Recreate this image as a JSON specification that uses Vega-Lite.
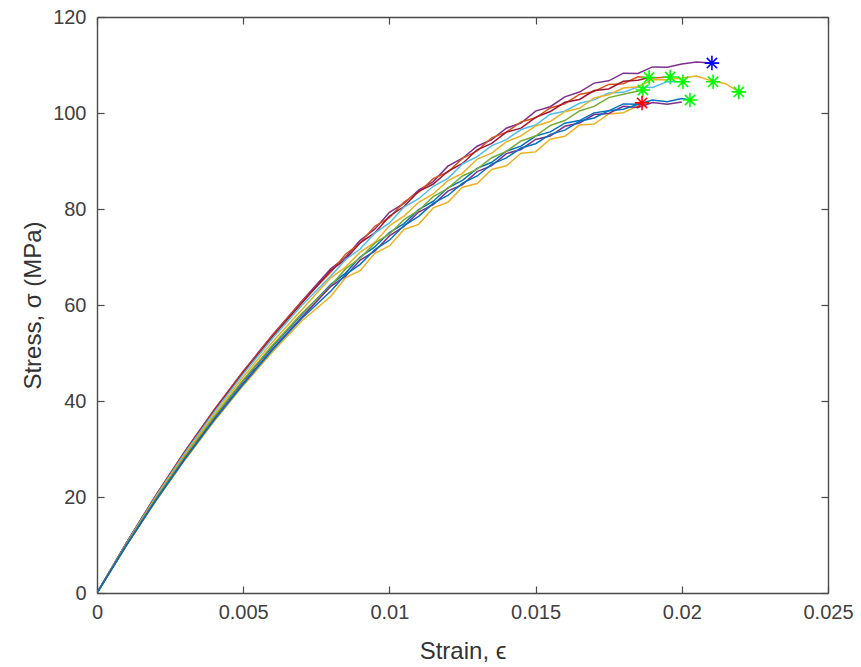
{
"$schema": "https://vega.github.io/schema/vega-lite/v6.json",
"width": 731, "height": 576,
"autosize": "none",
"padding": {"left": 97, "top": 17, "right": 33, "bottom": 74},
"background": "white",
"config": {"view": {"stroke": null},
 "axis": {"grid": false, "domainColor": "#4a4a4a", "tickColor": "#4a4a4a", "labelColor": "#404040", "titleColor": "#333333", "labelFont": "Liberation Sans", "titleFont": "Liberation Sans", "labelFontSize": 20, "titleFontSize": 24, "titleFontWeight": "normal", "tickSize": -7, "domainWidth": 1.4, "tickWidth": 1.2}},
"datasets": {
"curves": [
{"s":"A","x":0,"y":0},{"s":"A","x":0.001,"y":10.4},{"s":"A","x":0.002,"y":20.25},{"s":"A","x":0.003,"y":29.47},{"s":"A","x":0.004,"y":38.12},{"s":"A","x":0.005,"y":46.2},{"s":"A","x":0.006,"y":53.77},{"s":"A","x":0.007,"y":60.8},{"s":"A","x":0.008,"y":67.6},{"s":"A","x":0.0085,"y":69.95},{"s":"A","x":0.009,"y":73.5},{"s":"A","x":0.0095,"y":75.8},{"s":"A","x":0.01,"y":79.3},{"s":"A","x":0.0105,"y":81.16},{"s":"A","x":0.011,"y":83.96},{"s":"A","x":0.0115,"y":85.72},{"s":"A","x":0.012,"y":88.92},{"s":"A","x":0.0125,"y":90.58},{"s":"A","x":0.013,"y":93.08},{"s":"A","x":0.0135,"y":94.44},{"s":"A","x":0.014,"y":96.84},{"s":"A","x":0.0145,"y":97.9},{"s":"A","x":0.015,"y":100.4},{"s":"A","x":0.0155,"y":101.31},{"s":"A","x":0.016,"y":103.37},{"s":"A","x":0.0165,"y":104.37},{"s":"A","x":0.017,"y":106.23},{"s":"A","x":0.0175,"y":106.7},{"s":"A","x":0.018,"y":108.3},{"s":"A","x":0.0185,"y":108.23},{"s":"A","x":0.019,"y":109.6},{"s":"A","x":0.0195,"y":109.53},{"s":"A","x":0.02,"y":110.2},{"s":"A","x":0.0205,"y":110.6},{"s":"A","x":0.02103,"y":110.4},
{"s":"B","x":0,"y":0},{"s":"B","x":0.001,"y":10.38},{"s":"B","x":0.002,"y":20.21},{"s":"B","x":0.003,"y":29.41},{"s":"B","x":0.004,"y":38.04},{"s":"B","x":0.005,"y":46.1},{"s":"B","x":0.006,"y":53.65},{"s":"B","x":0.007,"y":60.66},{"s":"B","x":0.008,"y":66.85},{"s":"B","x":0.0085,"y":70.58},{"s":"B","x":0.009,"y":72.92},{"s":"B","x":0.0095,"y":76.4},{"s":"B","x":0.01,"y":78.2},{"s":"B","x":0.0105,"y":81.43},{"s":"B","x":0.011,"y":83.5},{"s":"B","x":0.0115,"y":86.33},{"s":"B","x":0.012,"y":87.7},{"s":"B","x":0.0125,"y":90.53},{"s":"B","x":0.013,"y":92.1},{"s":"B","x":0.0135,"y":94.83},{"s":"B","x":0.014,"y":96.0},{"s":"B","x":0.0145,"y":98.13},{"s":"B","x":0.015,"y":99.0},{"s":"B","x":0.0155,"y":101.05},{"s":"B","x":0.016,"y":101.93},{"s":"B","x":0.0165,"y":103.87},{"s":"B","x":0.017,"y":104.47},{"s":"B","x":0.0175,"y":105.96},{"s":"B","x":0.018,"y":106.1},{"s":"B","x":0.0185,"y":107.53},{"s":"B","x":0.019,"y":107.3},{"s":"B","x":0.0196,"y":107.5},
{"s":"C","x":0,"y":0},{"s":"C","x":0.001,"y":10.34},{"s":"C","x":0.002,"y":20.13},{"s":"C","x":0.003,"y":29.29},{"s":"C","x":0.004,"y":37.88},{"s":"C","x":0.005,"y":45.9},{"s":"C","x":0.006,"y":53.41},{"s":"C","x":0.007,"y":60.38},{"s":"C","x":0.008,"y":67.23},{"s":"C","x":0.0085,"y":69.54},{"s":"C","x":0.009,"y":72.96},{"s":"C","x":0.0095,"y":75.02},{"s":"C","x":0.01,"y":78.5},{"s":"C","x":0.0105,"y":80.52},{"s":"C","x":0.011,"y":83.68},{"s":"C","x":0.0115,"y":85.2},{"s":"C","x":0.012,"y":87.86},{"s":"C","x":0.0125,"y":89.48},{"s":"C","x":0.013,"y":92.34},{"s":"C","x":0.0135,"y":93.66},{"s":"C","x":0.014,"y":96.02},{"s":"C","x":0.0145,"y":96.84},{"s":"C","x":0.015,"y":99.1},{"s":"C","x":0.0155,"y":100.3},{"s":"C","x":0.016,"y":102.23},{"s":"C","x":0.0165,"y":102.82},{"s":"C","x":0.017,"y":104.67},{"s":"C","x":0.0175,"y":105.01},{"s":"C","x":0.018,"y":106.6},{"s":"C","x":0.0185,"y":106.83},{"s":"C","x":0.01888,"y":107.4},
{"s":"D","x":0,"y":0},{"s":"D","x":0.001,"y":10.28},{"s":"D","x":0.002,"y":20.01},{"s":"D","x":0.003,"y":29.11},{"s":"D","x":0.004,"y":37.64},{"s":"D","x":0.005,"y":45.6},{"s":"D","x":0.006,"y":53.01},{"s":"D","x":0.007,"y":59.88},{"s":"D","x":0.008,"y":66.03},{"s":"D","x":0.0085,"y":69.49},{"s":"D","x":0.009,"y":71.66},{"s":"D","x":0.0095,"y":74.97},{"s":"D","x":0.01,"y":77.1},{"s":"D","x":0.0105,"y":80.4},{"s":"D","x":0.011,"y":82.14},{"s":"D","x":0.0115,"y":84.74},{"s":"D","x":0.012,"y":86.38},{"s":"D","x":0.0125,"y":89.38},{"s":"D","x":0.013,"y":90.92},{"s":"D","x":0.0135,"y":93.22},{"s":"D","x":0.014,"y":94.46},{"s":"D","x":0.0145,"y":96.56},{"s":"D","x":0.015,"y":97.5},{"s":"D","x":0.0155,"y":99.76},{"s":"D","x":0.016,"y":100.37},{"s":"D","x":0.0165,"y":102.02},{"s":"D","x":0.017,"y":102.73},{"s":"D","x":0.0175,"y":104.15},{"s":"D","x":0.018,"y":104.3},{"s":"D","x":0.0185,"y":105.43},{"s":"D","x":0.019,"y":105.3},{"s":"D","x":0.0195,"y":106.53},{"s":"D","x":0.02004,"y":106.5},
{"s":"E","x":0,"y":0},{"s":"E","x":0.001,"y":10.16},{"s":"E","x":0.002,"y":19.77},{"s":"E","x":0.003,"y":28.75},{"s":"E","x":0.004,"y":37.16},{"s":"E","x":0.005,"y":45.0},{"s":"E","x":0.006,"y":52.27},{"s":"E","x":0.007,"y":59.0},{"s":"E","x":0.008,"y":65.71},{"s":"E","x":0.0085,"y":67.9},{"s":"E","x":0.009,"y":71.0},{"s":"E","x":0.0095,"y":73.04},{"s":"E","x":0.01,"y":76.5},{"s":"E","x":0.0105,"y":78.53},{"s":"E","x":0.011,"y":81.4},{"s":"E","x":0.0115,"y":83.13},{"s":"E","x":0.012,"y":85.9},{"s":"E","x":0.0125,"y":87.43},{"s":"E","x":0.013,"y":90.4},{"s":"E","x":0.0135,"y":91.63},{"s":"E","x":0.014,"y":94.0},{"s":"E","x":0.0145,"y":95.23},{"s":"E","x":0.015,"y":97.3},{"s":"E","x":0.0155,"y":98.21},{"s":"E","x":0.016,"y":100.27},{"s":"E","x":0.0165,"y":100.97},{"s":"E","x":0.017,"y":103.13},{"s":"E","x":0.0175,"y":103.8},{"s":"E","x":0.018,"y":105.2},{"s":"E","x":0.0185,"y":105.46},{"s":"E","x":0.019,"y":106.95},{"s":"E","x":0.0195,"y":106.91},{"s":"E","x":0.02,"y":107.3},{"s":"E","x":0.0205,"y":107.7},{"s":"E","x":0.021,"y":106.7},{"s":"E","x":0.0215,"y":106.1},{"s":"E","x":0.02195,"y":104.4},
{"s":"F","x":0,"y":0},{"s":"F","x":0.001,"y":9.8},{"s":"F","x":0.002,"y":19.05},{"s":"F","x":0.003,"y":27.67},{"s":"F","x":0.004,"y":35.72},{"s":"F","x":0.005,"y":43.2},{"s":"F","x":0.006,"y":50.21},{"s":"F","x":0.007,"y":56.68},{"s":"F","x":0.008,"y":61.83},{"s":"F","x":0.0085,"y":65.69},{"s":"F","x":0.009,"y":67.16},{"s":"F","x":0.0095,"y":70.77},{"s":"F","x":0.01,"y":72.3},{"s":"F","x":0.0105,"y":75.73},{"s":"F","x":0.011,"y":76.8},{"s":"F","x":0.0115,"y":80.23},{"s":"F","x":0.012,"y":81.4},{"s":"F","x":0.0125,"y":84.53},{"s":"F","x":0.013,"y":85.3},{"s":"F","x":0.0135,"y":88.23},{"s":"F","x":0.014,"y":89.0},{"s":"F","x":0.0145,"y":91.63},{"s":"F","x":0.015,"y":91.9},{"s":"F","x":0.0155,"y":94.55},{"s":"F","x":0.016,"y":95.15},{"s":"F","x":0.0165,"y":97.49},{"s":"F","x":0.017,"y":97.7},{"s":"F","x":0.0175,"y":99.81},{"s":"F","x":0.018,"y":100.05},{"s":"F","x":0.0185,"y":101.5},
{"s":"G","x":0,"y":0},{"s":"G","x":0.001,"y":10.0},{"s":"G","x":0.002,"y":19.45},{"s":"G","x":0.003,"y":28.27},{"s":"G","x":0.004,"y":36.52},{"s":"G","x":0.005,"y":44.2},{"s":"G","x":0.006,"y":51.37},{"s":"G","x":0.007,"y":58.0},{"s":"G","x":0.008,"y":64.31},{"s":"G","x":0.0085,"y":66.65},{"s":"G","x":0.009,"y":70.0},{"s":"G","x":0.0095,"y":72.09},{"s":"G","x":0.01,"y":75.1},{"s":"G","x":0.0105,"y":76.96},{"s":"G","x":0.011,"y":79.86},{"s":"G","x":0.0115,"y":81.62},{"s":"G","x":0.012,"y":84.42},{"s":"G","x":0.0125,"y":85.98},{"s":"G","x":0.013,"y":88.48},{"s":"G","x":0.0135,"y":89.74},{"s":"G","x":0.014,"y":92.04},{"s":"G","x":0.0145,"y":93.1},{"s":"G","x":0.015,"y":95.2},{"s":"G","x":0.0155,"y":96.06},{"s":"G","x":0.016,"y":97.87},{"s":"G","x":0.0165,"y":98.42},{"s":"G","x":0.017,"y":100.03},{"s":"G","x":0.0175,"y":100.45},{"s":"G","x":0.018,"y":101.9},{"s":"G","x":0.0185,"y":101.83},{"s":"G","x":0.019,"y":102.7},{"s":"G","x":0.0195,"y":102.33},{"s":"G","x":0.02,"y":103.0},{"s":"G","x":0.02028,"y":102.7},
{"s":"H","x":0,"y":0},{"s":"H","x":0.001,"y":10.04},{"s":"H","x":0.002,"y":19.53},{"s":"H","x":0.003,"y":28.39},{"s":"H","x":0.004,"y":36.68},{"s":"H","x":0.005,"y":44.4},{"s":"H","x":0.006,"y":51.59},{"s":"H","x":0.007,"y":58.24},{"s":"H","x":0.008,"y":64.07},{"s":"H","x":0.0085,"y":67.52},{"s":"H","x":0.009,"y":69.78},{"s":"H","x":0.0095,"y":72.88},{"s":"H","x":0.01,"y":74.8},{"s":"H","x":0.0105,"y":77.78},{"s":"H","x":0.011,"y":79.7},{"s":"H","x":0.0115,"y":82.58},{"s":"H","x":0.012,"y":84.3},{"s":"H","x":0.0125,"y":86.88},{"s":"H","x":0.013,"y":88.3},{"s":"H","x":0.0135,"y":90.68},{"s":"H","x":0.014,"y":92.0},{"s":"H","x":0.0145,"y":94.18},{"s":"H","x":0.015,"y":95.2},{"s":"H","x":0.0155,"y":97.4},{"s":"H","x":0.016,"y":98.43},{"s":"H","x":0.0165,"y":100.42},{"s":"H","x":0.017,"y":101.37},{"s":"H","x":0.0175,"y":103.21},{"s":"H","x":0.018,"y":103.9},{"s":"H","x":0.01867,"y":104.8},
{"s":"I","x":0,"y":0},{"s":"I","x":0.001,"y":9.9},{"s":"I","x":0.002,"y":19.25},{"s":"I","x":0.003,"y":27.97},{"s":"I","x":0.004,"y":36.12},{"s":"I","x":0.005,"y":43.7},{"s":"I","x":0.006,"y":50.83},{"s":"I","x":0.007,"y":57.42},{"s":"I","x":0.008,"y":63.89},{"s":"I","x":0.0085,"y":66.01},{"s":"I","x":0.009,"y":69.34},{"s":"I","x":0.0095,"y":71.21},{"s":"I","x":0.01,"y":74.4},{"s":"I","x":0.0105,"y":76.36},{"s":"I","x":0.011,"y":79.36},{"s":"I","x":0.0115,"y":80.92},{"s":"I","x":0.012,"y":83.72},{"s":"I","x":0.0125,"y":85.08},{"s":"I","x":0.013,"y":87.78},{"s":"I","x":0.0135,"y":89.04},{"s":"I","x":0.014,"y":91.54},{"s":"I","x":0.0145,"y":92.4},{"s":"I","x":0.015,"y":94.5},{"s":"I","x":0.0155,"y":95.2},{"s":"I","x":0.016,"y":97.23},{"s":"I","x":0.0165,"y":97.92},{"s":"I","x":0.017,"y":99.67},{"s":"I","x":0.0175,"y":99.91},{"s":"I","x":0.018,"y":101.4},{"s":"I","x":0.0185,"y":101.13},{"s":"I","x":0.019,"y":102.2},{"s":"I","x":0.0195,"y":101.83},{"s":"I","x":0.02,"y":102.3},
{"s":"J","x":0,"y":0},{"s":"J","x":0.001,"y":9.86},{"s":"J","x":0.002,"y":19.17},{"s":"J","x":0.003,"y":27.85},{"s":"J","x":0.004,"y":35.96},{"s":"J","x":0.005,"y":43.5},{"s":"J","x":0.006,"y":50.61},{"s":"J","x":0.007,"y":57.18},{"s":"J","x":0.008,"y":62.93},{"s":"J","x":0.0085,"y":66.34},{"s":"J","x":0.009,"y":68.46},{"s":"J","x":0.0095,"y":71.52},{"s":"J","x":0.01,"y":73.5},{"s":"J","x":0.0105,"y":76.56},{"s":"J","x":0.011,"y":78.46},{"s":"J","x":0.0115,"y":81.22},{"s":"J","x":0.012,"y":82.82},{"s":"J","x":0.0125,"y":85.38},{"s":"J","x":0.013,"y":86.88},{"s":"J","x":0.0135,"y":89.34},{"s":"J","x":0.014,"y":90.64},{"s":"J","x":0.0145,"y":92.7},{"s":"J","x":0.015,"y":93.6},{"s":"J","x":0.0155,"y":95.55},{"s":"J","x":0.016,"y":96.43},{"s":"J","x":0.0165,"y":98.27},{"s":"J","x":0.017,"y":98.97},{"s":"J","x":0.0175,"y":100.46},{"s":"J","x":0.018,"y":100.8},{"s":"J","x":0.01864,"y":102.1}
],
"markers": [
{"m":"b","x":0.02103,"y":110.4},
{"m":"g","x":0.01888,"y":107.4},
{"m":"g","x":0.0196,"y":107.5},
{"m":"g","x":0.02004,"y":106.5},
{"m":"g","x":0.01867,"y":104.8},
{"m":"g","x":0.02107,"y":106.5},
{"m":"g","x":0.02195,"y":104.4},
{"m":"g","x":0.02028,"y":102.7},
{"m":"r","x":0.01864,"y":102.1}
]
},
"layer": [
{"data": {"name": "curves"},
 "mark": {"type": "line", "strokeWidth": 1.5, "clip": true},
 "encoding": {
  "x": {"field": "x", "type": "quantitative", "scale": {"domain": [0, 0.025], "nice": false},
        "axis": {"values": [0, 0.005, 0.01, 0.015, 0.02, 0.025], "format": "~g", "title": "Strain, ϵ", "labelPadding": 16, "titlePadding": 17, "labelFlush": false}},
  "y": {"field": "y", "type": "quantitative", "scale": {"domain": [0, 120], "nice": false},
        "axis": {"values": [0, 20, 40, 60, 80, 100, 120], "title": "Stress, σ (MPa)", "labelPadding": 18, "titlePadding": 7}},
  "color": {"field": "s", "type": "nominal",
            "scale": {"domain": ["J", "I", "H", "G", "F", "E", "D", "C", "B", "A"],
                      "range": ["#0072BD", "#7E2F8E", "#77AC30", "#0072BD", "#EDB120", "#EDB120", "#4DBEEE", "#A2142F", "#D95319", "#7E2F8E"]},
            "legend": null}
 }},
{"data": {"name": "markers"},
 "mark": {"type": "point", "shape": "M-1,0L1,0M0,-1L0,1M-0.71,-0.71L0.71,0.71M-0.71,0.71L0.71,-0.71", "size": 210, "strokeWidth": 1.6, "filled": false, "opacity": 1},
 "encoding": {
  "x": {"field": "x", "type": "quantitative", "axis": null},
  "y": {"field": "y", "type": "quantitative", "axis": null},
  "stroke": {"field": "m", "type": "nominal", "scale": {"domain": ["b", "g", "r"], "range": ["#0000ff", "#00ff00", "#ff0000"]}, "legend": null}
 }},
{"data": {"name": "markers"},
 "mark": {"type": "point", "opacity": 0},
 "encoding": {
  "x": {"field": "x", "type": "quantitative", "axis": {"orient": "top", "labels": false, "title": null, "values": [0, 0.005, 0.01, 0.015, 0.02, 0.025]}},
  "y": {"field": "y", "type": "quantitative", "axis": {"orient": "right", "labels": false, "title": null, "values": [0, 20, 40, 60, 80, 100, 120]}}
 }}
],
"resolve": {"axis": {"x": "independent", "y": "independent"}}
}
